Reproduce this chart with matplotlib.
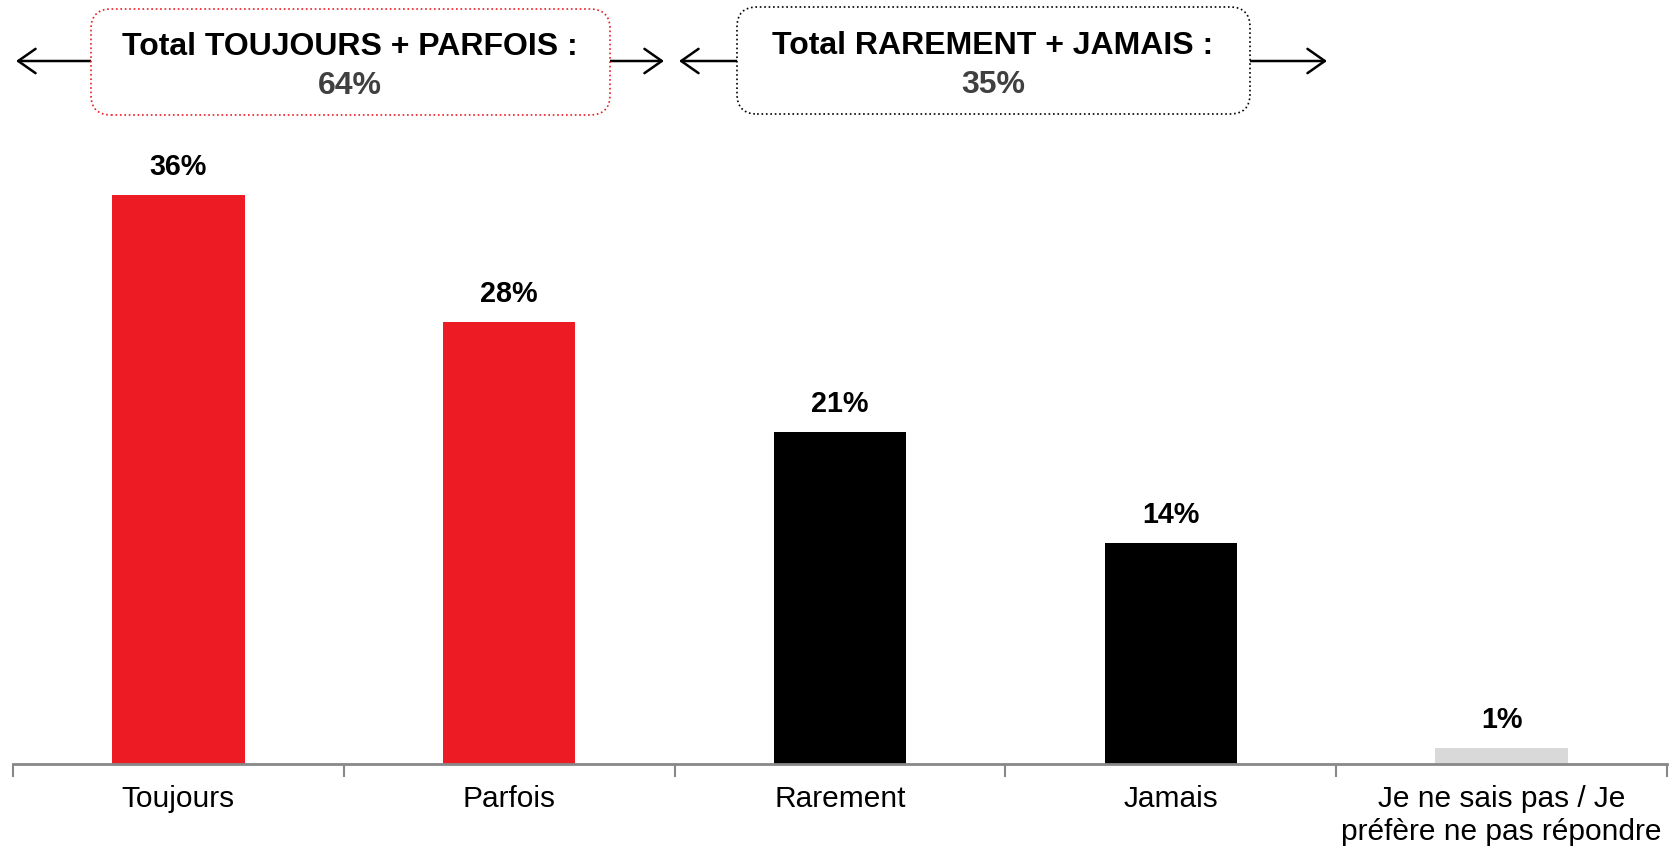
import matplotlib
matplotlib.use("Agg")
import matplotlib.pyplot as plt
from matplotlib.patches import FancyBboxPatch

categories = ["Toujours", "Parfois", "Rarement", "Jamais", "Je ne sais pas / Je\npréfère ne pas répondre"]
values = [36, 28, 21, 14, 1]
value_labels = ["36%", "28%", "21%", "14%", "1%"]
colors = ["#ED1C24", "#ED1C24", "#000000", "#000000", "#D9D9D9"]
group_titles = ["Total TOUJOURS + PARFOIS :", "Total RAREMENT + JAMAIS :"]
group_totals = ["64%", "35%"]

plt.rcParams['font.family'] = ['Liberation Sans', 'DejaVu Sans']

W, H = 1673, 848
fig = plt.figure(figsize=(W / 100, H / 100), dpi=100)
ax = fig.add_axes([13 / W, 1 - 764 / H, (1667 - 13) / W, (764 - 132) / H])

x = list(range(len(categories)))
bars = ax.bar(x, values, width=0.4, color=colors)
for xi, v, lab in zip(x, values, value_labels):
    ax.annotate(lab, (xi, v), xytext=(0, 10), textcoords="offset points",
                ha="center", va="bottom", fontsize=20.7, fontweight="bold")

ax.set_xlim(-0.5, len(categories) - 0.5)
ax.set_ylim(0, 40)
for s in ["top", "right", "left"]:
    ax.spines[s].set_visible(False)
ax.spines["bottom"].set_color("#888888")
ax.spines["bottom"].set_linewidth(2)
ax.set_yticks([])
ax.set_xticks(x)
ax.set_xticklabels(categories, fontsize=21.5, linespacing=1.25)
ax.tick_params(axis="x", which="major", length=0, pad=15)
ax.set_xticks([i - 0.5 for i in range(len(categories) + 1)], minor=True)
ax.tick_params(axis="x", which="minor", length=9, width=1.5, color="#888888", direction="out")

def fx(px):
    return px / W

def fy(py):
    return 1 - py / H

# boxes (pixel coords from top)
boxes = [
    dict(x0=91, x1=610, y0=9, y1=115, ec="#ED1C24", cx=350, ty1=47, ty2=86,
         arrows=[(91, 16), (610, 664)]),
    dict(x0=737, x1=1250, y0=7, y1=114, ec="#000000", cx=993, ty1=46, ty2=85,
         arrows=[(737, 679), (1250, 1327)]),
]
for b, title, tot in zip(boxes, group_titles, group_totals):
    p = FancyBboxPatch((fx(b["x0"]), fy(b["y1"])), fx(b["x1"] - b["x0"]), (b["y1"] - b["y0"]) / H,
                       boxstyle="round,pad=0,rounding_size=0.012", transform=fig.transFigure,
                       fc="white", ec=b["ec"], lw=1.2, ls=":", mutation_aspect=W / H)
    fig.patches.append(p)
    fig.text(fx(b["cx"]), fy(b["ty1"]), title, ha="center", va="center",
             fontsize=23, fontweight="bold", color="#000000")
    fig.text(fx(b["cx"]), fy(b["ty2"]), tot, ha="center", va="center",
             fontsize=23, fontweight="bold", color="#404040")
    for start, end in b["arrows"]:
        fig.add_artist(matplotlib.patches.FancyArrowPatch(
            (fx(start), fy(61)), (fx(end), fy(61)), transform=fig.transFigure,
            arrowstyle="->,head_length=0.5,head_width=0.35", mutation_scale=25,
            lw=1.8, color="black", shrinkA=0, shrinkB=0))

fig.savefig("out.png", dpi=100)
